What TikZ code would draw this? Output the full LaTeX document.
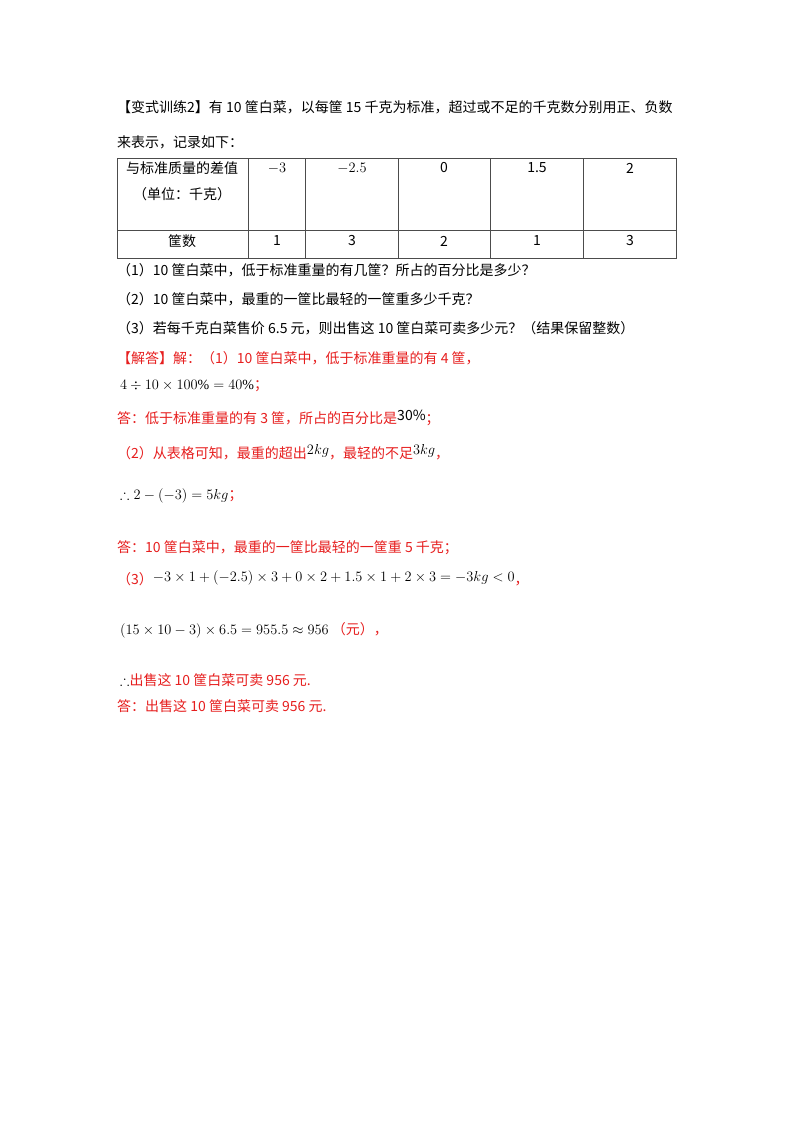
\documentclass[tikz,border=0pt]{standalone}
\usepackage{amssymb}
\usepackage{fontspec}
\setmainfont{Liberation Serif}
\newfontfamily\cjk{Noto Sans CJK SC}
\definecolor{ansred}{RGB}{230,30,30}
\begin{document}
\begin{tikzpicture}[x=1pt,y=-1pt,
  t/.style={anchor=west,inner sep=0pt,font=\fontsize{14}{16}\selectfont\cjk},
  r/.style={t,text=ansred},
  c/.style={inner sep=0pt,font=\fontsize{14}{16}\selectfont\cjk},
  grid/.style={draw=black!70,line width=0.6pt}]
\useasboundingbox (0,0) rectangle (800,1132);
\node[t] (l1) at (117,107) {【变式训练2】有 10 筐白菜，以每筐 15 千克为标准，超过或不足的千克数分别用正、负数};
\node[t] (l2) at (117,142) {来表示，记录如下：};
% table
\draw[grid] (117,158) rectangle (676,258);
\draw[grid] (117,230) -- (676,230);
\foreach \x in {248,305,398,490,583} \draw[grid] (\x,158) -- (\x,258);
\node[c] (h1) at (182,168) {与标准质量的差值};
\node[c] (h2) at (182,194) {（单位：千克）};
\node[c] (v1) at (277,168) {$-3$};
\node[c] (v2) at (352,168) {$-2.5$};
\node[c] (v3) at (444,168) {0};
\node[c] (v4) at (537,168) {1.5};
\node[c] (v5) at (630,168) {2};
\node[c] (k0) at (182,241) {筐数};
\node[c] (k1) at (277,241) {1};
\node[c] (k2) at (352,241) {3};
\node[c] (k3) at (444,241) {2};
\node[c] (k4) at (537,241) {1};
\node[c] (k5) at (630,241) {3};
\node[t] (q1) at (117,270) {（1）10 筐白菜中，低于标准重量的有几筐？所占的百分比是多少？};
\node[t] (q2) at (117,299) {（2）10 筐白菜中，最重的一筐比最轻的一筐重多少千克？};
\node[t] (q3) at (117,328) {（3）若每千克白菜售价 6.5 元，则出售这 10 筐白菜可卖多少元？（结果保留整数）};
\node[r] (a1) at (117,358) {【解答】解：（1）10 筐白菜中，低于标准重量的有 4 筐，};
\node[t] (a2) at (120,386) {$4\div10\times100\%=40\%$\textcolor{ansred}{；}};
\node[r] (a3) at (117,418) {答：低于标准重量的有 3 筐，所占的百分比是\raisebox{3pt}{\textcolor{black}{30\%}}；};
\node[r] (a4) at (117,452) {（2）从表格可知，最重的超出\raisebox{4pt}{\textcolor{black}{$2kg$}}，最轻的不足\raisebox{4pt}{\textcolor{black}{$3kg$}}，};
\node[t] (a5) at (120,496) {$\therefore2-(-3)=5kg$\textcolor{ansred}{；}};
\node[r] (a6) at (117,548) {答：10 筐白菜中，最重的一筐比最轻的一筐重 5 千克；};
\node[r] (a7) at (117,578) {（3）\raisebox{3pt}{\textcolor{black}{$-3\times1+(-2.5)\times3+0\times2+1.5\times1+2\times3=-3kg<0$}}，};
\node[t] (a8) at (120,630) {$(15\times10-3)\times6.5=955.5\approx956$\ \textcolor{ansred}{（元），}};
\node[t] (a9) at (120,680) {$\therefore$\textcolor{ansred}{出售这 10 筐白菜可卖 956 元.}};
\node[r] (a10) at (117,706) {答：出售这 10 筐白菜可卖 956 元.};
\end{tikzpicture}
\end{document}
